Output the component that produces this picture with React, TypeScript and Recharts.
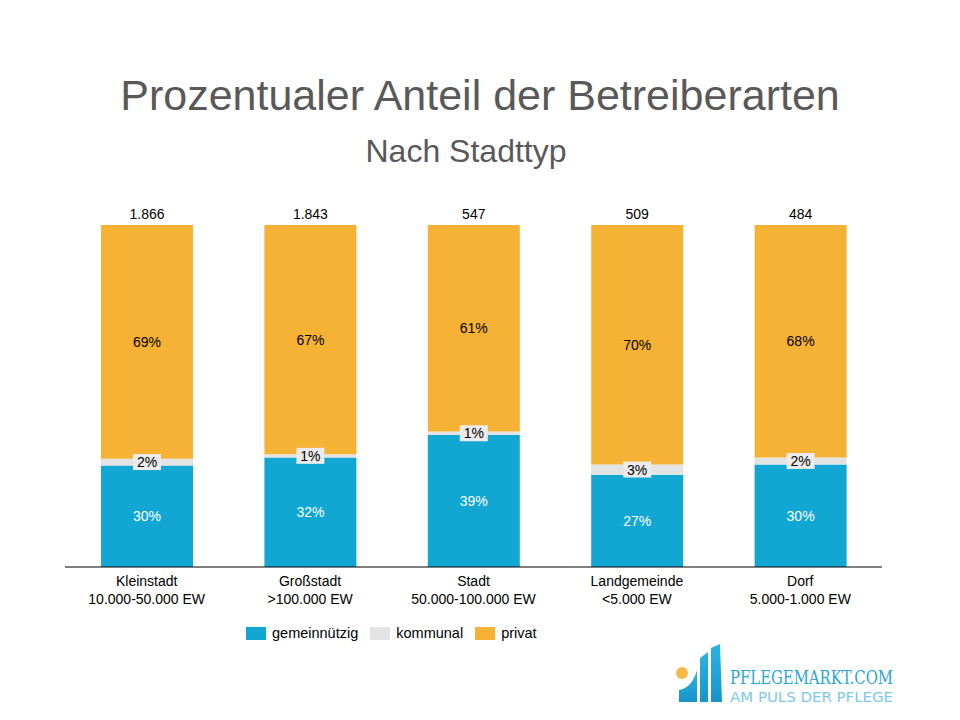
import React from 'react';
import { BarChart, Bar, XAxis, YAxis, LabelList } from 'recharts';

const categories = ['Kleinstadt', 'Großstadt', 'Stadt', 'Landgemeinde', 'Dorf'];
const subLabels = ['10.000-50.000 EW', '>100.000 EW', '50.000-100.000 EW', '<5.000 EW', '5.000-1.000 EW'];
const totals = ['1.866', '1.843', '547', '509', '484'];
const gemeinnuetzig = [30, 32, 39, 27, 30];
const kommunal = [2, 1, 1, 3, 2];
const privat = [69, 67, 61, 70, 68];

const COLORS = { gemein: '#12A7D2', kommunal: '#E3E3E3', privat: '#F5B234' };
const FONT = '"Liberation Sans", Arial, sans-serif';

const data = categories.map((c, i) => ({
  name: c,
  total: totals[i],
  gemeinnuetzig: gemeinnuetzig[i],
  kommunal: kommunal[i],
  privat: privat[i],
}));

const CatTick = (props: any) => {
  const { x, y, payload, index } = props;
  return (
    <text x={x} y={y} textAnchor="middle" fontFamily={FONT} fontSize={14} fill="#000">
      <tspan x={x} dy={11}>{payload.value}</tspan>
      <tspan x={x} dy={18}>{subLabels[index]}</tspan>
    </text>
  );
};

const pctLabel = (color: string, boxed: boolean, key: string) => (props: any) => {
  const { x, y, width, height, index } = props;
  const cx = x + width / 2;
  const cy = y + height / 2;
  const v = (data[index] as any)[key];
  return (
    <g>
      {boxed && <rect x={cx - 14} y={cy - 8} width={28} height={16} fill="#EBEBEB" />}
      <text x={cx} y={cy + 5} textAnchor="middle" fontFamily={FONT} fontSize={14} fill={color}>
        {v}%
      </text>
    </g>
  );
};

const totalLabel = (props: any) => {
  const { x, y, width, index } = props;
  return (
    <text x={x + width / 2} y={y - 6} textAnchor="middle" fontFamily={FONT} fontSize={14} fill="#000">
      {totals[index]}
    </text>
  );
};

const LegendBox = () => {
  const items = [
    { label: 'gemeinnützig', color: COLORS.gemein },
    { label: 'kommunal', color: COLORS.kommunal },
    { label: 'privat', color: COLORS.privat },
  ];
  return (
    <div style={{ position: 'absolute', left: 246, top: 624, display: 'flex', fontFamily: FONT, fontSize: 14.5, color: '#000', lineHeight: '18px' }}>
      {items.map((it) => (
        <div key={it.label} style={{ display: 'flex', alignItems: 'center', marginRight: 12 }}>
          <span style={{ display: 'inline-block', width: 20, height: 13, background: it.color, marginRight: 6 }} />
          <span>{it.label}</span>
        </div>
      ))}
    </div>
  );
};

const Logo = () => (
  <svg width={960} height={720} style={{ position: 'absolute', left: 0, top: 0, pointerEvents: 'none' }}>
    <defs>
      <linearGradient id="lg" x1="0" y1="0" x2="0" y2="1">
        <stop offset="0" stopColor="#2BB3E3" />
        <stop offset="1" stopColor="#1794C8" />
      </linearGradient>
    </defs>
    <circle cx={682} cy={673} r={6} fill="#F7B84A" />
    <path d="M679 702 L679 690 Q692 688 697 670 L697 702 Z" fill="url(#lg)" />
    <path d="M700 702 L700 658 L708 652 L708 702 Z" fill="url(#lg)" />
    <path d="M711 702 L711 648 L720 644 L722 702 Z" fill="url(#lg)" />
    <text x={730} y={684} fontFamily='"DejaVu Serif", serif' fontSize={19} fill="#2AA6D8" textLength={163} lengthAdjust="spacingAndGlyphs">
      PFLEGEMARKT.COM
    </text>
    <text x={730} y={702} fontFamily='"DejaVu Sans", sans-serif' fontSize={14} fill="#7CC9E8" textLength={163} lengthAdjust="spacingAndGlyphs">
      AM PULS DER PFLEGE
    </text>
  </svg>
);

export default function App() {
  return (
    <div style={{ position: 'absolute', left: 0, top: 0, width: 960, height: 720, background: '#fff' }}>
      <div style={{ position: 'absolute', left: 0, top: 70, width: 960, textAlign: 'center', fontFamily: FONT, fontSize: 43, color: '#595959', lineHeight: '50px' }}>
        Prozentualer Anteil der Betreiberarten
      </div>
      <div style={{ position: 'absolute', left: -14, top: 133, width: 960, textAlign: 'center', fontFamily: FONT, fontSize: 32, color: '#595959', lineHeight: '36px' }}>
        Nach Stadttyp
      </div>
      <div style={{ position: 'absolute', left: 0, top: 0 }}>
        <BarChart
          width={960}
          height={660}
          data={data}
          stackOffset="expand"
          barSize={92}
          margin={{ top: 225, right: 78, left: 65, bottom: 63 }}
        >
          <XAxis dataKey="name" tick={<CatTick />} tickLine={false} axisLine={{ stroke: '#000', strokeWidth: 1 }} interval={0} />
          <YAxis hide domain={[0, 1]} />
          <Bar dataKey="gemeinnuetzig" stackId="a" fill={COLORS.gemein} isAnimationActive={false}>
            <LabelList content={pctLabel('#fff', false, 'gemeinnuetzig')} />
          </Bar>
          <Bar dataKey="kommunal" stackId="a" fill={COLORS.kommunal} isAnimationActive={false}>
            <LabelList content={pctLabel('#000', true, 'kommunal')} />
          </Bar>
          <Bar dataKey="privat" stackId="a" fill={COLORS.privat} isAnimationActive={false}>
            <LabelList content={pctLabel('#000', false, 'privat')} />
            <LabelList content={totalLabel} />
          </Bar>
        </BarChart>
      </div>
      <LegendBox />
      <Logo />
    </div>
  );
}
